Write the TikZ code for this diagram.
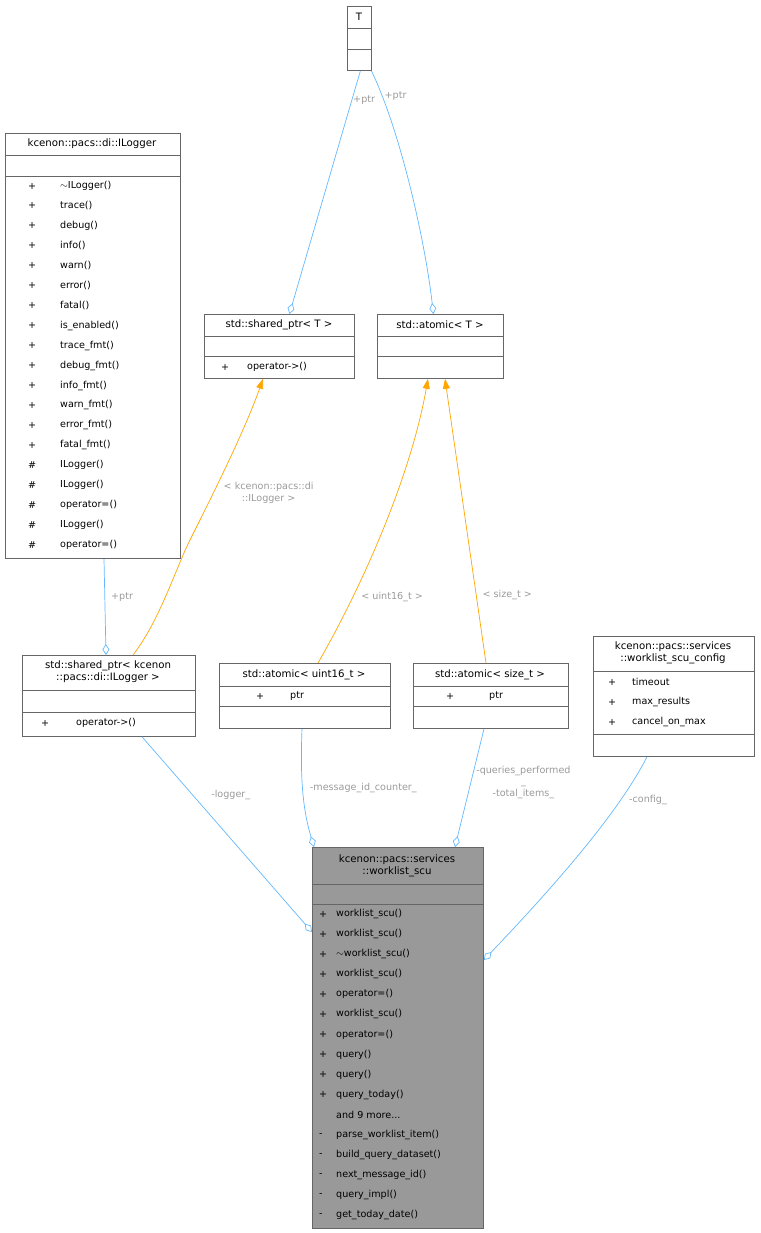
\documentclass[tikz,border=0pt]{standalone}
\usepackage{fontspec}
\setmainfont{DejaVu Sans}
\usetikzlibrary{arrows.meta}
\definecolor{edgeblue}{HTML}{63B8FF}
\definecolor{edgeorange}{HTML}{FFA500}
\definecolor{lblgray}{HTML}{9A9A9A}
\definecolor{boxgray}{HTML}{666666}
\newcommand\wlmore{and 9 more...}
\tikzset{
  cls/.style={draw=boxgray,line width=0.8pt,fill=white,inner sep=0pt,anchor=north west},
  sep/.style={draw=boxgray,line width=0.8pt},
  txt/.style={inner sep=0pt,anchor=west,font=\fontsize{9.6}{11}\selectfont},
  ttl/.style={inner sep=0pt,align=center,font=\fontsize{10.2}{12}\selectfont},
  lbl/.style={inner sep=0pt,align=center,text=lblgray,font=\fontsize{9.6}{11.5}\selectfont},
  agg/.style={draw=edgeblue,line width=0.7pt,-{Diamond[open,length=11pt,width=7pt]}},
  tmpl/.style={draw=edgeorange,line width=0.7pt,-{Triangle[length=10pt,width=7pt]}},
}
\begin{document}
\begin{tikzpicture}[x=1pt,y=-1pt]
\useasboundingbox (0,0) rectangle (760,1233);

% T
\node[cls,minimum width=24pt,minimum height=64pt] (t) at (347,6) {};
\draw[sep] (347,28) -- (371,28) (347,49) -- (371,49);
\node[ttl] (tt) at (359,17) {T};

% ILogger
\node[cls,minimum width=175pt,minimum height=425pt] (ilog) at (5,133) {};
\draw[sep] (5,155) -- (180,155) (5,176) -- (180,176);
\node[ttl] (ilogt) at (92,144) {kcenon::pacs::di::ILogger};
\foreach \v/\n [count=\i from 0] in {+/$\sim$ILogger(),+/trace(),+/debug(),+/info(),+/warn(),+/error(),+/fatal(),+/is\_enabled(),+/trace\_fmt(),+/debug\_fmt(),+/info\_fmt(),+/warn\_fmt(),+/error\_fmt(),+/fatal\_fmt(),\#/ILogger(),\#/ILogger(),\#/operator=(),\#/ILogger(),\#/operator=()}{
  \node[txt] (ilogv\i) at (28,186+19.95*\i) {\v};
  \node[txt] (ilogm\i) at (60,186+19.95*\i) {\n};
}

% shared_ptr< T >
\node[cls,minimum width=150pt,minimum height=64pt] (spt) at (204,314) {};
\draw[sep] (204,336) -- (354,336) (204,356) -- (354,356);
\node[ttl] (sptt) at (279,325) {std::shared\_ptr< T >};
\node[txt] (sptv) at (221,367) {+};
\node[txt] (sptm) at (247,367) {operator->()};

% atomic< T >
\node[cls,minimum width=126pt,minimum height=64pt] (att) at (377,314) {};
\draw[sep] (377,336) -- (503,336) (377,356) -- (503,356);
\node[ttl] (attt) at (440,325) {std::atomic< T >};

% shared_ptr< ILogger >
\node[cls,minimum width=173pt,minimum height=81pt] (spl) at (22,655) {};
\draw[sep] (22,690) -- (195,690) (22,712) -- (195,712);
\node[ttl] (splt) at (108,672) {std::shared\_ptr< kcenon\\::pacs::di::ILogger >};
\node[txt] (splv) at (41,723) {+};
\node[txt] (splm) at (76,723) {operator->()};

% atomic< uint16_t >
\node[cls,minimum width=171pt,minimum height=65pt] (au16) at (219,663) {};
\draw[sep] (219,686) -- (390,686) (219,706) -- (390,706);
\node[ttl] (au16t) at (304,675) {std::atomic< uint16\_t >};
\node[txt] (au16v) at (256,696) {+};
\node[txt] (au16m) at (290,696) {ptr};

% atomic< size_t >
\node[cls,minimum width=155pt,minimum height=65pt] (asz) at (413,663) {};
\draw[sep] (413,686) -- (568,686) (413,706) -- (568,706);
\node[ttl] (aszt) at (490,675) {std::atomic< size\_t >};
\node[txt] (aszv) at (446,696) {+};
\node[txt] (aszm) at (489,696) {ptr};

% worklist_scu_config
\node[cls,minimum width=161pt,minimum height=120pt] (cfg) at (593,636) {};
\draw[sep] (593,671) -- (754,671) (593,734) -- (754,734);
\node[ttl] (cfgt) at (673,653) {kcenon::pacs::services\\::worklist\_scu\_config};
\foreach \n [count=\i from 0] in {timeout,max\_results,cancel\_on\_max}{
  \node[txt] (cfgv\i) at (608,682+20*\i) {+};
  \node[txt] (cfgm\i) at (632,682+20*\i) {\n};
}

% worklist_scu
\node[cls,fill=black!40,minimum width=171pt,minimum height=381pt] (wl) at (312,847) {};
\draw[sep] (312,884) -- (483,884) (312,904) -- (483,904);
\node[ttl] (wlt) at (397,866) {kcenon::pacs::services\\::worklist\_scu};
\foreach \v/\n [count=\i from 0] in {+/worklist\_scu(),+/worklist\_scu(),+/$\sim$worklist\_scu(),+/worklist\_scu(),+/operator=(),+/worklist\_scu(),+/operator=(),+/query(),+/query(),+/query\_today(),{}/\wlmore,-/parse\_worklist\_item(),-/build\_query\_dataset(),-/next\_message\_id(),-/query\_impl(),-/get\_today\_date()}{
  \node[txt] (wlv\i) at (319,914+20.07*\i) {\v};
  \node[txt] (wlm\i) at (336,914+20.07*\i) {\n};
}

% connectors
\draw[agg] ([xshift=1pt]t.south) -- ([xshift=10pt]spt.north) node[lbl,pos=0.12,right=1pt] (l1) {+ptr};
\draw[agg] ([xshift=12pt]t.south) .. controls (400,130) and (425,240) .. ([xshift=-7pt]att.north) node[lbl,pos=0.13,right=2pt] (l2) {+ptr};
\draw[agg] ([xshift=99pt]ilog.south west) -- ([xshift=84pt]spl.north west) node[lbl,pos=0.4,right=6pt] (l3) {+ptr};
\draw[tmpl] ([xshift=111pt]spl.north west) .. controls (160,620) and (175,570) .. (190,540) .. controls (215,490) and (245,430) .. ([xshift=59pt]spt.south west) node[lbl,pos=0.3,right=10pt] (l4) {< kcenon::pacs::di\\::ILogger >};
\draw[tmpl] ([xshift=99pt]au16.north west) .. controls (360,590) and (410,480) .. ([xshift=51pt]att.south west) node[lbl,pos=0.27,right=8pt] (l5) {< uint16\_t >};
\draw[tmpl] ([xshift=73pt]asz.north west) -- ([xshift=68pt]att.south west) node[lbl,pos=0.24,right=6pt] (l6) {< size\_t >};
\draw[agg] ([xshift=120pt]spl.south west) -- ([yshift=-85pt]wl.north west) node[lbl,pos=0.3,right=18pt] (l7) {-logger\_};
\draw[agg] ([xshift=83pt]au16.south west) .. controls (300,780) and (303,810) .. ([xshift=2pt]wl.north west) node[lbl,pos=0.45,right=7pt] (l8) {-message\_id\_counter\_};
\draw[agg] ([xshift=71pt]asz.south west) -- ([xshift=143pt]wl.north west) node[lbl,pos=0.45,right=5pt] (l9) {-queries\_performed\\\_\\-total\_items\_};
\draw[agg] ([xshift=54pt]cfg.south west) .. controls (620,810) and (560,880) .. ([yshift=-113pt]wl.north east) node[lbl,pos=0.25,right=8pt] (l10) {-config\_};
\end{tikzpicture}
\end{document}
